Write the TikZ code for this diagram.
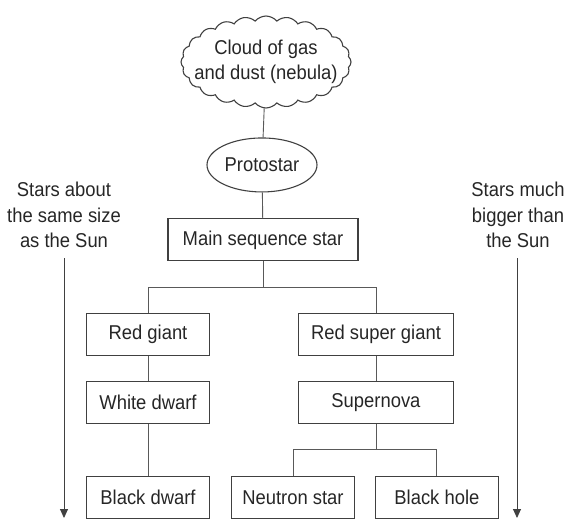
\documentclass[tikz,border=0pt]{standalone}
\usepackage{fontspec}
\setmainfont[FakeStretch=0.92]{Liberation Sans}
\usepackage{tikz}
\usetikzlibrary{shapes.symbols,shapes.geometric,arrows.meta}

\tikzset{
  stage/.style={draw=black!75,line width=1.1pt,minimum height=42pt,inner sep=0pt},
  narrow/.style={stage,minimum width=123pt},
  wide/.style={stage,minimum width=155pt},
  link/.style={draw=black!65,line width=0.9pt},
  sidenote/.style={align=center},
  arr/.style={draw=black!75,line width=0.9pt,-{Triangle[width=8pt,length=9pt]}}
}

\begin{document}
\begin{tikzpicture}[font=\fontsize{20}{25.5}\selectfont,text=black!85,node distance=1cm]
      \useasboundingbox (0pt,0pt) rectangle (566pt,-519pt);

      \node [cloud,draw=black!75,line width=1.1pt,cloud puffs=24,cloud puff arc=100,aspect=2,
             minimum width=170pt,minimum height=92pt,inner xsep=-14pt,inner ysep=-4pt,align=center]
            (cloud) at (266pt,-62pt) {Cloud of gas\\and dust (nebula)};
      \node [ellipse,draw=black!75,line width=1.1pt,minimum width=110pt,minimum height=54pt,inner sep=0pt,
             below of=cloud,yshift=-74.5pt,xshift=-4pt] (proto) {Protostar};
      \node [stage,minimum width=190pt,below of=proto,yshift=-46.5pt,xshift=1pt] (main) {Main sequence star};

      \node [narrow,below of=main,yshift=-66pt,xshift=-115pt] (redgiant) {Red giant};
      \node [wide,right of=redgiant,xshift=199.5pt] (supergiant) {Red super giant};
      \node [narrow,below of=redgiant,yshift=-40pt] (whitedwarf) {White dwarf};
      \node [wide,below of=supergiant,yshift=-40pt] (supernova) {Supernova};
      \node [narrow,below of=whitedwarf,yshift=-66pt] (blackdwarf) {Black dwarf};
      \node [narrow,right of=blackdwarf,xshift=116.5pt] (neutron) {Neutron star};
      \node [narrow,right of=neutron,xshift=115.5pt] (blackhole) {Black hole};

      \node [sidenote] (small) at (64pt,-215pt) {Stars about\\the same size\\as the Sun};
      \node [sidenote] (big) at (518pt,-215pt) {Stars much\\bigger than\\the Sun};
      \coordinate (smallend) at (64pt,-518pt);
      \coordinate (bigend) at (517pt,-518pt);

      \draw[link] (cloud) -- (proto);
      \draw[link] (proto) -- (main);
      \draw[link] (main.south) -- ++(0pt,-26pt) coordinate (split) -| (redgiant.north);
      \draw[link] (split) -| (supergiant.north);
      \draw[link] (redgiant) -- (whitedwarf);
      \draw[link] (whitedwarf) -- (blackdwarf);
      \draw[link] (supergiant) -- (supernova);
      \draw[link] (supernova.south) -- ++(0pt,-25pt) coordinate (split2) -| (neutron.north);
      \draw[link] (split2) -| (blackhole.north);

      \draw[arr] ([yshift=-7pt]small.south) -- (smallend);
      \draw[arr] ([yshift=-7pt,xshift=-1pt]big.south) -- (bigend);
    \end{tikzpicture}
\end{document}
